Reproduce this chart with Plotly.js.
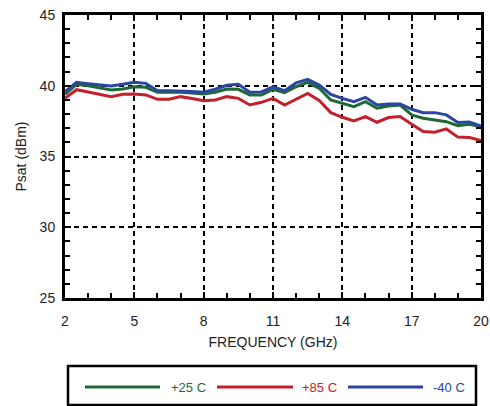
<!DOCTYPE html>
<html>
<head>
<meta charset="utf-8">
<script src="https://cdn.plot.ly/plotly-3.0.1.min.js"></script>
<style>html,body{margin:0;padding:0;background:#fff;}#chart{width:490px;height:406px;}</style>
</head>
<body>
<div id="chart"></div>
<script>
const freq = [2,2.5,3,3.5,4,4.5,5,5.5,6,6.5,7,7.5,8,8.5,9,9.5,10,10.5,11,11.5,12,12.5,13,13.5,14,14.5,15,15.5,16,16.5,17,17.5,18,18.5,19,19.5,20];
const p25 = [39.39,40.10,40.00,39.85,39.70,39.77,39.93,39.89,39.54,39.54,39.54,39.48,39.42,39.54,39.77,39.75,39.35,39.35,39.75,39.51,39.93,40.24,39.82,38.99,38.76,38.52,38.87,38.41,38.57,38.64,37.94,37.70,37.58,37.46,37.18,37.28,37.10];
const p85 = [39.11,39.72,39.56,39.40,39.23,39.40,39.42,39.35,39.04,39.04,39.23,39.10,38.94,38.99,39.23,39.11,38.64,38.83,39.11,38.64,39.06,39.46,38.96,38.10,37.77,37.51,37.82,37.42,37.75,37.82,37.28,36.76,36.72,36.95,36.37,36.34,36.13];
const pm40 = [39.58,40.24,40.15,40.05,39.98,40.10,40.24,40.17,39.65,39.65,39.65,39.60,39.54,39.75,40.03,40.10,39.54,39.56,39.93,39.65,40.21,40.45,40.05,39.39,39.11,38.87,39.18,38.64,38.71,38.71,38.34,38.10,38.10,37.94,37.40,37.44,37.15];
const seriesNames = ['+25 C','+85 C','-40 C'];
const colors = ['#1e6a37','#c4202b','#2b45a2'];

const ML=65, MR=9, MT=15, MB=108, W=490, H=406;
const PW=W-ML-MR, PH=H-MT-MB;
const px = x => (x-ML)/PW;
const py = y => (H-MB-y)/PH;

const traces = [
  {x:freq, y:p85, name:seriesNames[1], mode:'lines', line:{color:colors[1], width:3}, showlegend:false},
  {x:freq, y:p25, name:seriesNames[0], mode:'lines', line:{color:colors[0], width:3}, showlegend:false},
  {x:freq, y:pm40, name:seriesNames[2], mode:'lines', line:{color:colors[2], width:3}, showlegend:false}
];

const shapes = [
  {type:'rect', xref:'paper', yref:'paper', x0:px(68), x1:px(476), y0:py(405), y1:py(366), line:{color:'#000', width:2.5}, fillcolor:'rgba(0,0,0,0)'}
];
const legLines = [[85,160],[217,293],[348,423]];
const legText = [169,300,431];
const annotations = [];
[0,1,2].forEach(i=>{
  shapes.push({type:'line', xref:'paper', yref:'paper', x0:px(legLines[i][0]), x1:px(legLines[i][1]), y0:py(387), y1:py(387), line:{color:colors[i], width:3}});
  annotations.push({xref:'paper', yref:'paper', x:px(legText[i]), y:py(387), xanchor:'left', yanchor:'middle', text:seriesNames[i], showarrow:false, font:{family:'Liberation Sans, Arial, sans-serif', size:13, color:colors[i]}});
});

const layout = {
  width:W, height:H,
  margin:{l:ML, r:MR, t:MT, b:MB},
  paper_bgcolor:'#fff', plot_bgcolor:'#fff',
  font:{family:'Liberation Sans, Arial, sans-serif', size:14, color:'#222'},
  xaxis:{
    range:[2,20], tick0:2, dtick:3, showline:true, mirror:'allticks', linecolor:'#000', linewidth:3,
    ticks:'inside', ticklen:6, tickwidth:2, tickcolor:'#000',
    minor:{dtick:1, ticks:'inside', ticklen:5, tickwidth:2, tickcolor:'#000', showgrid:false},
    showgrid:true, gridcolor:'#000', gridwidth:2, griddash:'5px,4px',
    zeroline:false, ticklabelstandoff:8,
    title:{text:'FREQUENCY (GHz)', standoff:10, font:{size:14, color:'#222'}},
    tickfont:{size:14, color:'#222'}
  },
  yaxis:{
    range:[25,45], tick0:25, dtick:5, showline:true, mirror:'allticks', linecolor:'#000', linewidth:3,
    ticks:'inside', ticklen:6, tickwidth:2, tickcolor:'#000',
    minor:{dtick:1, ticks:'inside', ticklen:5, tickwidth:2, tickcolor:'#000', showgrid:false},
    showgrid:true, gridcolor:'#000', gridwidth:2, griddash:'5px,4px',
    zeroline:false, ticklabelstandoff:4,
    title:{text:'Psat (dBm)', standoff:10, font:{size:14, color:'#222'}},
    tickfont:{size:14, color:'#222'}
  },
  shapes:shapes,
  annotations:annotations
};

Plotly.newPlot('chart', traces, layout, {displayModeBar:false, staticPlot:true});
</script>
</body>
</html>
